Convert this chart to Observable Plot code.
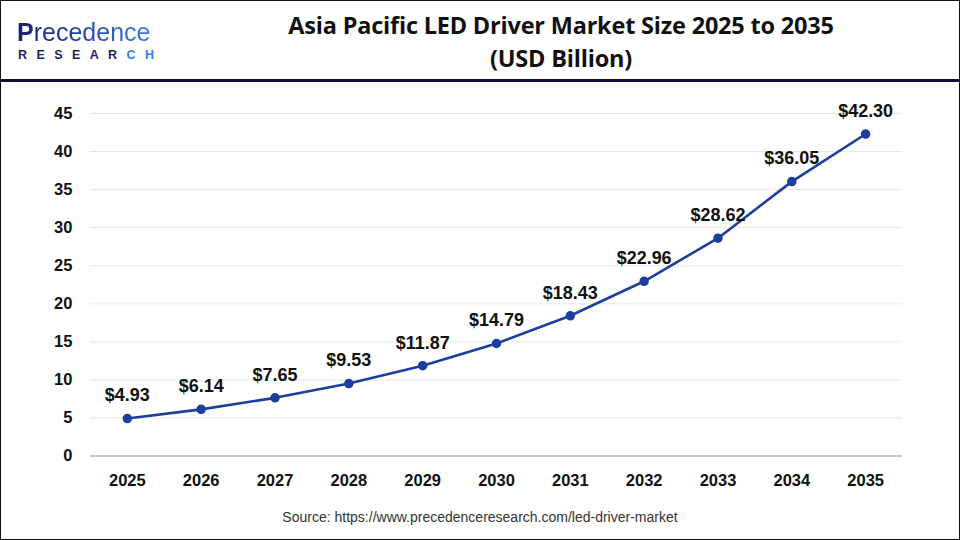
<!DOCTYPE html>
<html>
<head>
<meta charset="utf-8">
<script src="https://cdn.jsdelivr.net/npm/d3@7"></script>
<script src="https://cdn.jsdelivr.net/npm/@observablehq/plot@0.6"></script>
<style>
  html, body { margin: 0; padding: 0; background: #fff; }
  #frame { position: relative; width: 958px; height: 538px; border: 1px solid #111; overflow: hidden; background: #fff; font-family: "Liberation Sans", Arial, sans-serif; }
  #logo .p1 { position: absolute; left: 16px; top: 17px; font-family: "Liberation Sans", sans-serif; font-size: 25px; font-weight: 400; line-height: normal; letter-spacing: 0px; background: linear-gradient(90deg, #1b1f6b 0%, #2540a8 45%, #3a7be0 100%); -webkit-background-clip: text; background-clip: text; color: transparent; }
  #logo .p1 b { font-weight: 700; }
  #logo .p2 { position: absolute; left: 17px; top: 46.5px; font-family: "Liberation Sans", sans-serif; font-size: 12.5px; font-weight: 700; letter-spacing: 9.4px; line-height: normal; color: #1b1f6b; }
  #logo .p2 span { color: #3a7be0; }
  #title { position: absolute; left: 210px; width: 700px; top: 8px; text-align: center; font-family: "Open Sans", sans-serif; font-weight: 700; font-size: 23.5px; line-height: 33px; color: #111; letter-spacing: -0.2px; }
  #rule { position: absolute; left: 0; top: 78px; width: 958px; height: 3px; background: #0d0f3a; }
  #chart { position: absolute; left: -1px; top: 81px; }
  #source { position: absolute; left: 0; width: 958px; top: 508px; text-align: center; font-size: 14px; color: #333; }
</style>
</head>
<body>
<div id="frame">
  <div id="logo"><div class="p1"><b>P</b>recedence</div><div class="p2">RESEAR<span>CH</span></div></div>
  <div id="title">Asia Pacific LED Driver Market Size 2025 to 2035<br>(USD Billion)</div>
  <div id="rule"></div>
  <div id="chart"></div>
  <div id="source">Source: https://www.precedenceresearch.com/led-driver-market</div>
</div>
<script>
const years = [2025, 2026, 2027, 2028, 2029, 2030, 2031, 2032, 2033, 2034, 2035];
const values = [4.93, 6.14, 7.65, 9.53, 11.87, 14.79, 18.43, 22.96, 28.62, 36.05, 42.30];
const yTicks = [0, 5, 10, 15, 20, 25, 30, 35, 40, 45];

const data = years.map((y, i) => ({year: y, value: values[i]}));

const chart = Plot.plot({
  width: 960,
  height: 421,
  marginTop: 31,
  marginBottom: 47,
  marginLeft: 90,
  marginRight: 57,
  style: {fontFamily: "Liberation Sans, Arial, sans-serif", background: "transparent"},
  x: {domain: [2024.5, 2035.5], ticks: years, tickFormat: d => String(d), label: null},
  y: {domain: [0, 45], ticks: yTicks, label: null},
  marks: [
    Plot.gridY(yTicks.filter(t => t > 0), {stroke: "#e6e6e6", strokeOpacity: 1, strokeWidth: 1}),
    Plot.ruleY([0], {stroke: "#c9c9c9", strokeWidth: 2}),
    Plot.axisY({ticks: yTicks, tickSize: 0, tickPadding: 18, fontSize: 16.5, fontWeight: "bold", fill: "#111", label: null}),
    Plot.axisX({ticks: years, tickSize: 0, tickPadding: 18, fontSize: 16.5, fontWeight: "bold", fill: "#111", tickFormat: d => String(d), label: null}),
    Plot.line(data, {x: "year", y: "value", stroke: "#1c3f9c", strokeWidth: 2.6}),
    Plot.dot(data, {x: "year", y: "value", r: 4, fill: "#1c3f9c", stroke: "#1c3f9c"}),
    Plot.text(data, {x: "year", y: "value", text: d => "$" + d.value.toFixed(2), dy: -23, fontSize: 18, fontWeight: "bold", fill: "#111"})
  ]
});
document.getElementById("chart").appendChild(chart);
</script>
</body>
</html>
